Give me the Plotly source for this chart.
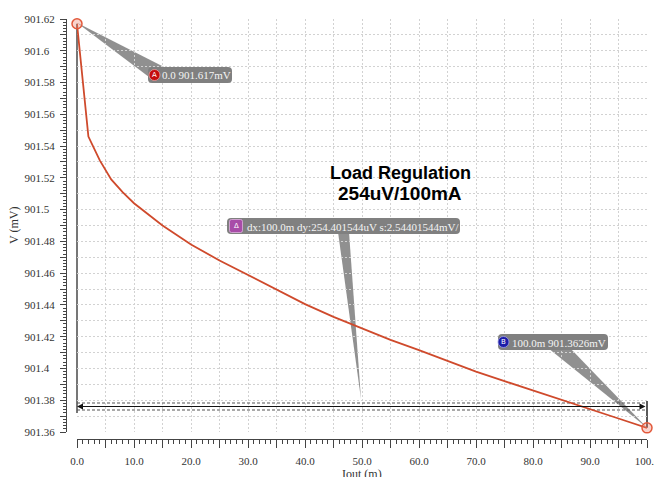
import plotly.graph_objects as go

# ---------------- data ----------------
iout_mA = [0, 2, 4, 6, 8, 10, 15, 20, 25, 30, 35, 40, 45, 50,
           55, 60, 65, 70, 75, 80, 85, 90, 95, 100]
v_mV = [901.617, 901.546, 901.531, 901.519, 901.511, 901.504, 901.490,
        901.478, 901.468, 901.459, 901.4495, 901.4405, 901.4325, 901.425,
        901.418, 901.4115, 901.4045, 901.398, 901.392, 901.386, 901.380,
        901.3745, 901.3685, 901.3626]

x_tick_vals = [0, 10, 20, 30, 40, 50, 60, 70, 80, 90, 100]
x_tick_text = ["0.0", "10.0", "20.0", "30.0", "40.0", "50.0", "60.0",
               "70.0", "80.0", "90.0", "100.0"]
y_tick_vals = [901.36, 901.38, 901.40, 901.42, 901.44, 901.46, 901.48,
               901.50, 901.52, 901.54, 901.56, 901.58, 901.60, 901.62]
y_tick_text = ["901.36", "901.38", "901.4", "901.42", "901.44", "901.46",
               "901.48", "901.5", "901.52", "901.54", "901.56", "901.58",
               "901.6", "901.62"]

marker_a_text = "0.0 901.617mV"
marker_b_text = "100.0m 901.3626mV"
delta_text = "dx:100.0m dy:254.401544uV s:2.54401544mV/"
title_line1 = "Load Regulation"
title_line2 = "254uV/100mA"
x_title = "Iout (m)"
y_title = "V (mV)"

# ---------------- geometry ----------------
W, H = 654, 477
ML, MR, MT, MB = 60, 7, 19, 30
PW, PH = W - ML - MR, H - MT - MB
X0PX, X1PX = 77, 647          # data area left/right (px)
YBPX, YTPX = 432, 19          # data area bottom/top (px)
XR = [0, 100]
YR = [901.36, 901.62]
YAXIS_PX = 66
XAXIS_PX = 439
X_GRID_STEP = 5
Y_GRID_STEP = 0.01


def px_of_x(x):
    return X0PX + (x - XR[0]) / (XR[1] - XR[0]) * (X1PX - X0PX)


def px_of_y(y):
    return YBPX - (y - YR[0]) / (YR[1] - YR[0]) * (YBPX - YTPX)


def y_of_px(p):
    return YR[0] + (YBPX - p) / (YBPX - YTPX) * (YR[1] - YR[0])


def pap(xp, yp):
    return (xp - ML) / PW, (MT + PH - yp) / PH


def P(xp, yp):
    u, v = pap(xp, yp)
    return f"{u:.5f},{v:.5f}"


def rrect(x0, y0, x1, y1, r):
    return (f"M {P(x0 + r, y0)} L {P(x1 - r, y0)} Q {P(x1, y0)} {P(x1, y0 + r)} "
            f"L {P(x1, y1 - r)} Q {P(x1, y1)} {P(x1 - r, y1)} "
            f"L {P(x0 + r, y1)} Q {P(x0, y1)} {P(x0, y1 - r)} "
            f"L {P(x0, y0 + r)} Q {P(x0, y0)} {P(x0 + r, y0)} Z")


def tri(a, b, c):
    return f"M {P(*a)} L {P(*b)} L {P(*c)} Z"


xdom0 = (X0PX - ML) / PW
ydom0 = (MT + PH - YBPX) / PH
ypos = (YAXIS_PX - ML) / PW
xpos = (MT + PH - XAXIS_PX) / PH

CURVE = "#cf4a2c"
GRID = "#d2d2d2"
GDASH = "2px,2px"
AXC = "#444444"
BOX = "#808080"
WEDGE = "rgba(125,125,125,0.85)"
SERIF = "Liberation Serif, Times New Roman, serif"

# tick positions (grid every 5 / 0.01, labels only on the labelled ticks)
x_all = [XR[0] + i * X_GRID_STEP for i in range(int((XR[1] - XR[0]) / X_GRID_STEP) + 1)]
x_all_text = [x_tick_text[x_tick_vals.index(v)] if v in x_tick_vals else "" for v in x_all]
NB = "\u00a0"
y_lab = {round(v, 3): t + NB * 2 * (6 - len(t)) for v, t in zip(y_tick_vals, y_tick_text)}
y_all = [round(YR[0] + i * Y_GRID_STEP, 3) for i in range(int(round((YR[1] - YR[0]) / Y_GRID_STEP)) + 1)]
y_all_text = [y_lab.get(v, "") for v in y_all]

fig = go.Figure()
fig.add_trace(go.Scatter(x=iout_mA, y=v_mV, mode="lines",
                         line=dict(color=CURVE, width=1.8),
                         hoverinfo="skip", showlegend=False))
fig.add_trace(go.Scatter(x=[iout_mA[0], iout_mA[-1]], y=[v_mV[0], v_mV[-1]],
                         mode="markers", cliponaxis=False,
                         marker=dict(symbol="circle", size=10,
                                     color="rgba(240,130,110,0.35)",
                                     line=dict(color="#e2583a", width=1.5)),
                         hoverinfo="skip", showlegend=False))

# ---------------- decorations ----------------
ax_px, ay_px = px_of_x(iout_mA[0]), px_of_y(v_mV[0])
bx_px, by_px = px_of_x(iout_mA[-1]), px_of_y(v_mV[-1])
DELTA_PX = 406.5
delta_y = y_of_px(DELTA_PX)

shapes = []
shapes.append(dict(type="line", xref="paper", yref="paper",
                   x0=pap(ax_px, ay_px)[0], x1=pap(ax_px, ay_px)[0],
                   y0=pap(ax_px, ay_px)[1], y1=pap(ax_px, 413)[1],
                   line=dict(color="#686868", width=1.8), layer="between"))
shapes.append(dict(type="line", xref="paper", yref="paper",
                   x0=pap(bx_px, 0)[0], x1=pap(bx_px, 0)[0],
                   y0=pap(0, 401)[1], y1=pap(0, by_px)[1],
                   line=dict(color="#222222", width=1.5), layer="between"))
for off in (-3.5, 3.5):
    yy = y_of_px(DELTA_PX + off)
    shapes.append(dict(type="line", xref="x", yref="y", x0=XR[0], x1=XR[1],
                       y0=yy, y1=yy, layer="between",
                       line=dict(color="#555555", width=1.2, dash="3px,2px")))
shapes.append(dict(type="path", xref="paper", yref="paper", layer="between",
                   path=tri((ax_px, ay_px - 1), (166, 68), (149, 77)),
                   fillcolor=WEDGE, line=dict(width=0)))
shapes.append(dict(type="path", xref="paper", yref="paper", layer="between",
                   path=tri((bx_px, by_px), (548, 348), (570, 348)),
                   fillcolor=WEDGE, line=dict(width=0)))
shapes.append(dict(type="path", xref="paper", yref="paper", layer="between",
                   path=tri((338, 232), (349, 232), (361, 399)),
                   fillcolor=WEDGE, line=dict(width=0)))
for (x0, y0, x1, y1) in [(148, 67, 232, 83), (498, 334, 608, 350), (227, 218, 460, 234)]:
    shapes.append(dict(type="path", xref="paper", yref="paper", layer="above",
                       path=rrect(x0, y0, x1, y1, 4), fillcolor=BOX,
                       line=dict(width=0)))
for (cx, cy, col, rim) in [(154.5, 75, "#c40e0e", "#e8a0a0"), (503.5, 342, "#1c1ca8", "#a0a0e8")]:
    u0, v0 = pap(cx - 5.5, cy + 5.5)
    u1, v1 = pap(cx + 5.5, cy - 5.5)
    shapes.append(dict(type="circle", xref="paper", yref="paper", layer="above",
                       x0=u0, y0=v0, x1=u1, y1=v1, fillcolor=col,
                       line=dict(color=rim, width=0.8)))
shapes.append(dict(type="path", xref="paper", yref="paper", layer="above",
                   path=rrect(229.5, 219.5, 242.5, 232.5, 2), fillcolor="#a84ca8",
                   line=dict(color="#e0b0e0", width=0.8)))

annotations = []
lab_font = dict(family=SERIF, size=11, color="#f4f4f4")
for (xp, yp, txt) in [(160, 75.5, marker_a_text), (510, 342.5, marker_b_text),
                      (245, 226.5, delta_text)]:
    u, v = pap(xp, yp)
    annotations.append(dict(x=u, y=v, xref="paper", yref="paper", text=txt,
                            showarrow=False, xanchor="left", yanchor="middle",
                            font=lab_font))
for (cx, cy, t) in [(154.5, 75, "A"), (503.5, 342, "B"), (236, 226, "Δ")]:
    u, v = pap(cx, cy)
    annotations.append(dict(x=u, y=v, xref="paper", yref="paper", text=t,
                            showarrow=False, xanchor="center", yanchor="middle",
                            font=dict(family="DejaVu Sans", size=7, color="white")))
annotations.append(dict(x=XR[0], y=delta_y, ax=XR[1], ay=delta_y, xref="x", yref="y",
                        axref="x", ayref="y", text="", showarrow=True,
                        arrowhead=2, arrowside="end+start", arrowsize=1,
                        arrowwidth=1.2, arrowcolor="#111111"))
u, v = pap(400, 172.5)
annotations.append(dict(x=u, y=v, xref="paper", yref="paper", text=f"<b>{title_line1}</b>",
                        showarrow=False, xanchor="center", yanchor="middle",
                        font=dict(family="Liberation Sans, Arial", size=18, color="black")))
u, v = pap(400, 193.5)
annotations.append(dict(x=u, y=v, xref="paper", yref="paper", text=f"<b>{title_line2}</b>",
                        showarrow=False, xanchor="center", yanchor="middle",
                        font=dict(family="Liberation Sans, Arial", size=19, color="black")))
u, v = pap((X0PX + X1PX) / 2, 465)
annotations.append(dict(x=u, y=v, xref="paper", yref="paper", text=x_title,
                        showarrow=False, xanchor="center", yanchor="top",
                        font=dict(family=SERIF, size=12, color="#333333")))
u, v = pap(14, 226)
annotations.append(dict(x=u, y=v, xref="paper", yref="paper", text=y_title,
                        showarrow=False, xanchor="center", yanchor="middle",
                        textangle=-90,
                        font=dict(family=SERIF, size=12, color="#333333")))

fig.update_layout(
    width=W, height=H,
    margin=dict(l=ML, r=MR, t=MT, b=MB, autoexpand=False),
    paper_bgcolor="white", plot_bgcolor="white",
    showlegend=False, hovermode=False,
    shapes=shapes, annotations=annotations,
    xaxis=dict(domain=[xdom0, 1], range=XR, anchor="free", position=xpos,
               tickmode="array", tickvals=x_all, ticktext=x_all_text,
               ticks="outside", ticklen=8, tickwidth=1, tickcolor=AXC,
               showline=True, linecolor=AXC, linewidth=1,
               showgrid=True, gridcolor=GRID, griddash=GDASH, gridwidth=1,
               zeroline=False, ticklabelstandoff=4, ticklabeloverflow="allow",
               tickfont=dict(family=SERIF, size=11, color="#333333"),
               minor=dict(tickmode="linear", tick0=0, dtick=1, ticks="outside",
                          ticklen=4, tickcolor=AXC, showgrid=False)),
    yaxis=dict(domain=[ydom0, 1], range=YR, anchor="free", position=ypos,
               tickmode="array", tickvals=y_all, ticktext=y_all_text,
               ticks="outside", ticklen=6, tickwidth=1, tickcolor=AXC,
               showline=True, linecolor=AXC, linewidth=1,
               showgrid=True, gridcolor=GRID, griddash=GDASH, gridwidth=1,
               zeroline=False, ticklabelstandoff=3, ticklabeloverflow="allow",
               tickfont=dict(family=SERIF, size=11, color="#333333"),
               minor=dict(tickmode="linear", tick0=901.36, dtick=0.002,
                          ticks="outside", ticklen=3, tickcolor=AXC,
                          showgrid=False)),
)

fig.write_html("out.html", config={"displayModeBar": False, "staticPlot": True},
               post_script="document.body.style.margin='0';document.body.style.overflow='hidden';")
